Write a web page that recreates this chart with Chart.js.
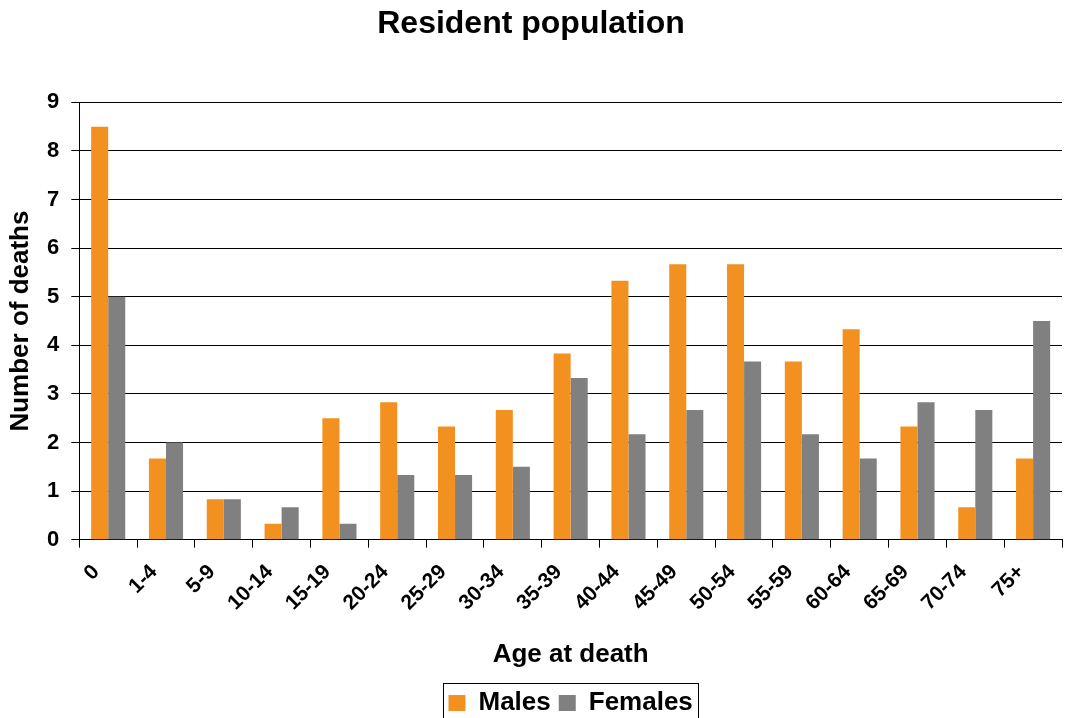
<!DOCTYPE html>
<html>
<head>
<meta charset="utf-8">
<title>Resident population</title>
<script src="https://cdn.jsdelivr.net/npm/chart.js@4/dist/chart.umd.min.js"></script>
<style>
  html, body { margin: 0; padding: 0; background: #ffffff; overflow: hidden; }
  #wrap { width: 1068px; height: 726px; }
</style>
</head>
<body>
<div id="wrap"><canvas id="chart" width="1068" height="726"></canvas></div>
<script>
// Age groups at death
const categories = ['0', '1-4', '5-9', '10-14', '15-19', '20-24', '25-29', '30-34', '35-39',
  '40-44', '45-49', '50-54', '55-59', '60-64', '65-69', '70-74', '75+'];

// Number of deaths per age group
const males = [8.5, 1.67, 0.83, 0.33, 2.5, 2.83, 2.33, 2.67, 3.83,
  5.33, 5.67, 5.67, 3.67, 4.33, 2.33, 0.67, 1.67];
const females = [5, 2, 0.83, 0.67, 0.33, 1.33, 1.33, 1.5, 3.33,
  2.17, 2.67, 3.67, 2.17, 1.67, 2.83, 2.67, 4.5];

const yTicks = [0, 1, 2, 3, 4, 5, 6, 7, 8, 9];

const FONT = "'Liberation Sans', Arial, Helvetica, sans-serif";
const ORANGE = '#f29120';
const GREY = '#808080';

// Frame drawn around the legend entries
const legendFrame = {
  id: 'legendFrame',
  afterDraw(chart) {
    const lg = chart.legend;
    if (!lg || !lg.legendHitBoxes || !lg.legendHitBoxes.length) return;
    const boxes = lg.legendHitBoxes;
    let l = Infinity, r = -Infinity, t = Infinity;
    boxes.forEach(b => {
      l = Math.min(l, b.left);
      r = Math.max(r, b.left + b.width);
      t = Math.min(t, b.top);
    });
    const ctx = chart.ctx;
    ctx.save();
    ctx.strokeStyle = '#000';
    ctx.lineWidth = 1;
    ctx.strokeRect(Math.round(l - 5) + 0.5, Math.round(t - 7) + 0.5,
      Math.round(r - l + 11), 60);
    ctx.restore();
  }
};

new Chart(document.getElementById('chart'), {
  type: 'bar',
  data: {
    labels: categories,
    datasets: [
      { label: 'Males', data: males, backgroundColor: ORANGE, borderWidth: 0 },
      { label: 'Females', data: females, backgroundColor: GREY, borderWidth: 0 }
    ]
  },
  options: {
    responsive: false,
    animation: false,
    devicePixelRatio: 1,
    layout: { padding: { left: 0, right: 6, top: 0, bottom: 0 } },
    datasets: { bar: { categoryPercentage: 0.59, barPercentage: 1.0 } },
    plugins: {
      title: {
        display: true,
        text: 'Resident population',
        color: '#000',
        font: { family: FONT, size: 32, weight: 'bold' },
        padding: { top: 5, bottom: 59 }
      },
      legend: {
        display: true,
        position: 'bottom',
        fullSize: false,
        labels: {
          color: '#000',
          font: { family: FONT, size: 26, weight: 'bold' },
          boxWidth: 17,
          boxHeight: 16,
          padding: 8
        }
      },
      tooltip: { enabled: false }
    },
    scales: {
      x: {
        offset: true,
        border: { display: true, color: '#000', width: 1 },
        grid: {
          display: true,
          offset: true,
          drawOnChartArea: false,
          drawTicks: true,
          tickLength: 8,
          color: '#000'
        },
        ticks: {
          color: '#000',
          font: { family: FONT, size: 21, weight: 'bold' },
          minRotation: 45,
          maxRotation: 45,
          autoSkip: false,
          padding: 12,
          labelOffset: -12
        },
        title: {
          display: true,
          text: 'Age at death',
          color: '#000',
          font: { family: FONT, size: 26, weight: 'bold' },
          padding: { top: 0, bottom: 12 }
        },
        afterFit(scale) { scale.height = 142.3; }
      },
      y: {
        min: 0,
        max: 9,
        border: { display: true, color: '#000', width: 1 },
        grid: {
          color: '#000',
          lineWidth: 1,
          drawTicks: true,
          tickLength: 8
        },
        afterBuildTicks(scale) { scale.ticks = yTicks.map(v => ({ value: v })); },
        ticks: {
          color: '#000',
          font: { family: FONT, size: 22, weight: 'bold' },
          padding: 12
        },
        title: {
          display: true,
          text: 'Number of deaths',
          color: '#000',
          font: { family: FONT, size: 26, weight: 'bold' },
          padding: { top: 5, bottom: 0 }
        },
        afterFit(scale) { scale.width = 79.3; }
      }
    }
  },
  plugins: [legendFrame]
});
</script>
</body>
</html>
